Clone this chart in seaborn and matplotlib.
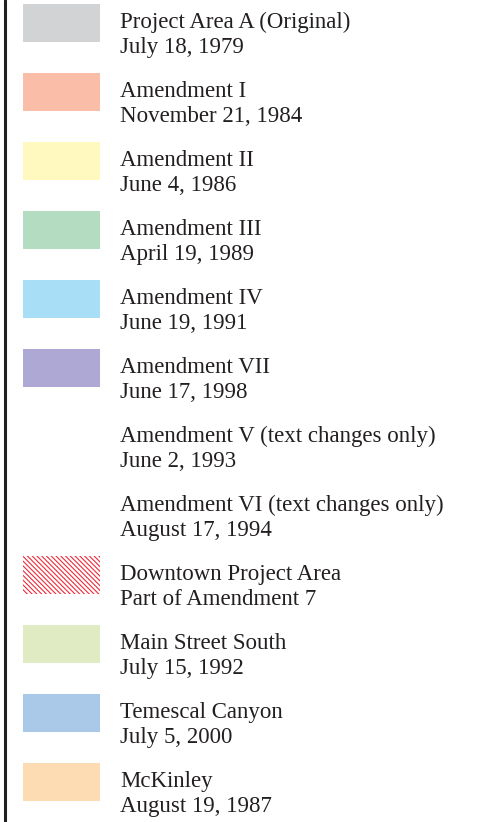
import matplotlib.pyplot as plt
import seaborn as sns
import pandas as pd

# Legend entries (top to bottom)
names = ['Project Area A (Original)', 'Amendment I', 'Amendment II', 'Amendment III',
         'Amendment IV', 'Amendment VII', 'Amendment V (text changes only)',
         'Amendment VI (text changes only)', 'Downtown Project Area',
         'Main Street South', 'Temescal Canyon', 'McKinley']
dates = ['July 18, 1979', 'November 21, 1984', 'June 4, 1986', 'April 19, 1989',
         'June 19, 1991', 'June 17, 1998', 'June 2, 1993', 'August 17, 1994',
         'Part of Amendment 7', 'July 15, 1992', 'July 5, 2000', 'August 19, 1987']
colors = ['#d1d3d4', '#f9bda8', '#fff9c0', '#b3dcc1', '#a9dff6', '#aea8d4',
          '#ffffff', '#ffffff', '#ffffff', '#e0ebc4', '#aac8e8', '#fddcb4']
hatched = ['Downtown Project Area']

SWATCH_W = 77
df = pd.DataFrame({'name': names, 'w': SWATCH_W})

sns.set_theme(style='white')
plt.rcParams['font.family'] = ['Liberation Serif', 'DejaVu Serif']
plt.rcParams['hatch.linewidth'] = 0.8

fig = plt.figure(figsize=(4.84, 8.22), dpi=100)
ax = fig.add_axes([0, 0, 1, 1])
sns.barplot(data=df, x='w', y='name', hue='name', palette=dict(zip(names, colors)),
            order=names, hue_order=names, orient='h', width=0.55, legend=False,
            saturation=1, linewidth=0, ax=ax)

for p in ax.patches:
    i = int(round(p.get_y() + p.get_height() / 2))
    if names[i] in hatched:
        p.set_facecolor('white')
        p.set_edgecolor('#ee2a3a')
        p.set_hatch('\\' * 7)
        p.set_linewidth(0)

for i, (n, d) in enumerate(zip(names, dates)):
    ax.text(97, i + 0.08, n, fontsize=16.5, color='#231f20', va='baseline', ha='left')
    ax.text(97, i + 0.44, d, fontsize=16.5, color='#231f20', va='baseline', ha='left')

ax.axvline(-18.5, color='#231f20', lw=2.2)
ax.set_xlim(-23, 461)
ax.set_ylim(11.58, -0.333)
ax.axis('off')

fig.savefig('out.png', dpi=100)
